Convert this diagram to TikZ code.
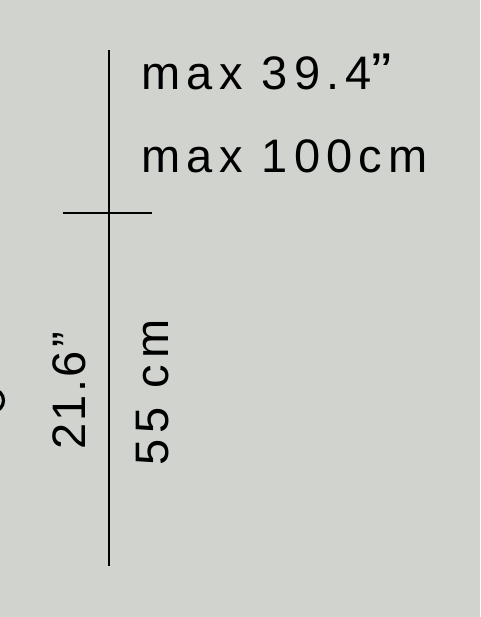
\documentclass[tikz,border=0pt]{standalone}
\usepackage{fontspec}
\setmainfont{Liberation Sans}
\newfontfamily\dimfont[LetterSpace=13]{Liberation Sans}
\newfontfamily\dimfontnarrow[LetterSpace=5]{Liberation Sans}
\definecolor{bg}{RGB}{209,211,206}
\tikzset{
  dimline/.style={line width=2pt, black},
  dimtext/.style={inner sep=0pt, font=\dimfont\fontsize{47}{50}\selectfont, text=black},
  dimtextnarrow/.style={inner sep=0pt, font=\dimfontnarrow\fontsize{47}{50}\selectfont, text=black},
}
\begin{document}
\begin{tikzpicture}[x=1pt,y=-1pt]
\fill[bg] (0,0) rectangle (480,617);
\useasboundingbox (0,0) rectangle (480,617);
% partial glyph at left edge
\begin{scope}
\clip (0,0) rectangle (480,617);
\draw[line width=3.2pt] (-7,400.5) ellipse [x radius=10.5, y radius=11];
\end{scope}
% dimension lines
\coordinate (vtop) at (108.5,50);
\coordinate (vbot) at (108.5,566);
\coordinate (hl) at (63,213.5);
\coordinate (hr) at (152,213.5);
\draw[dimline] (vtop) -- (vbot);
\draw[dimline] (hl) -- (hr);
% labels
\node[dimtext, anchor=base west] (maxin) at (141.5,90) {max 39.4\scalebox{1.3}[1.1]{”}};
\node[dimtext, anchor=base west] (maxcm) at (141.5,173) {max 100cm};
\node[dimtextnarrow, anchor=base west, rotate=90] (inch) at (85,450) {21.6\kern4pt”};
\node[dimtext, anchor=base west, rotate=90] (cm) at (168,466) {55 cm};
\end{tikzpicture}
\end{document}
